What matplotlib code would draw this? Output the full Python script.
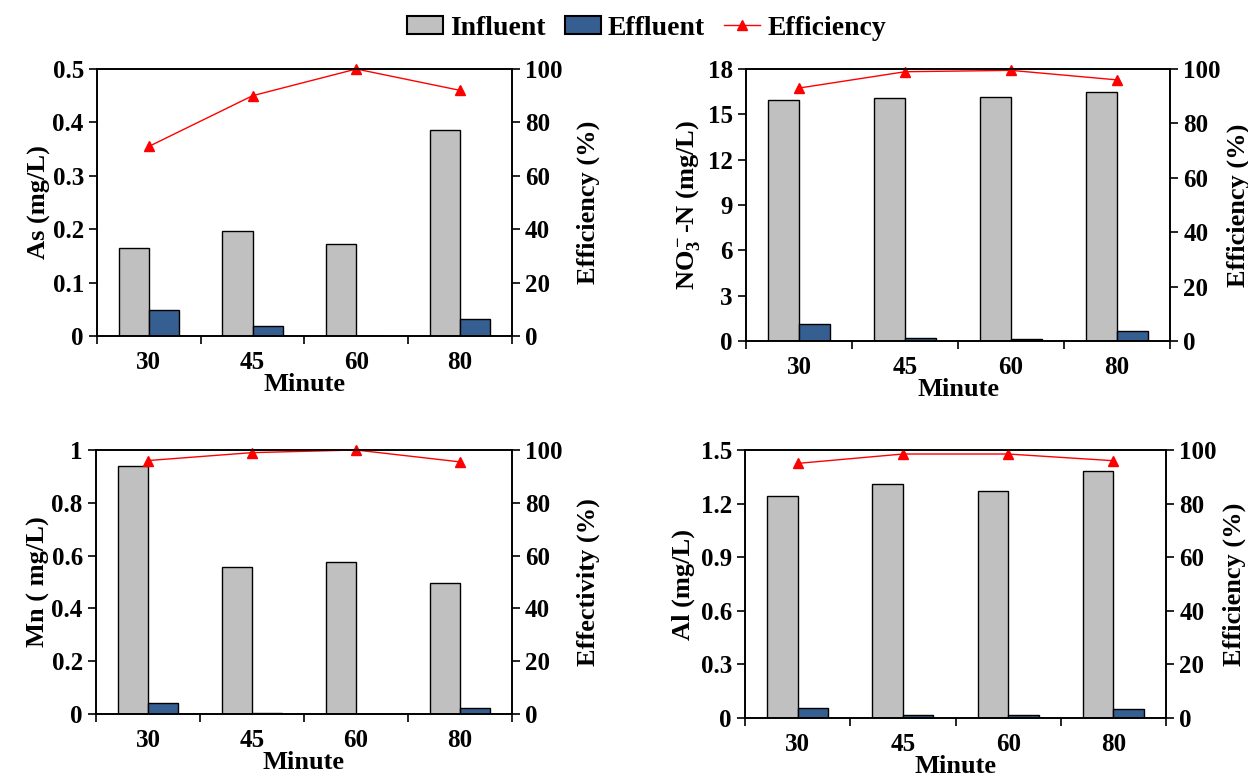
import numpy as np
import matplotlib
matplotlib.use("Agg")
import matplotlib.pyplot as plt
from matplotlib.patches import Patch
from matplotlib.lines import Line2D

plt.rcParams['font.family'] = ['Liberation Serif', 'DejaVu Serif']
plt.rcParams['font.weight'] = 'bold'
plt.rcParams['mathtext.fontset'] = 'custom'
plt.rcParams['mathtext.rm'] = 'Liberation Serif:bold'
plt.rcParams['mathtext.it'] = 'Liberation Serif:bold'
plt.rcParams['mathtext.bf'] = 'Liberation Serif:bold'

minutes = ['30', '45', '60', '80']

as_in = [0.165, 0.196, 0.172, 0.386]
as_out = [0.048, 0.019, 0.0, 0.031]
as_eff = [71, 90, 100, 92]

no3_in = [15.95, 16.05, 16.15, 16.45]
no3_out = [1.15, 0.22, 0.1, 0.65]
no3_eff = [93, 99, 99.5, 96]

mn_in = [0.94, 0.555, 0.575, 0.495]
mn_out = [0.04, 0.005, 0.001, 0.022]
mn_eff = [96, 99, 100, 95.5]

al_in = [1.245, 1.31, 1.27, 1.385]
al_out = [0.058, 0.015, 0.015, 0.052]
al_eff = [95, 98.5, 98.5, 96]

c_in = '#C0C0C0'
c_out = '#355F91'
c_eff = '#FF0000'

fig = plt.figure(figsize=(12.48, 7.78), dpi=100)


def panel(rect, infl, effl, eff, ylim, yticks, ylabel, rlabel, lpad, rpad):
    ax = fig.add_axes(rect)
    x = np.arange(len(minutes))
    w = 0.29
    ax.bar(x - w / 2, infl, w, color=c_in, edgecolor='black', linewidth=1)
    ax.bar(x + w / 2, effl, w, color=c_out, edgecolor='black', linewidth=1)
    ax.set_xlim(-0.5, len(minutes) - 0.5)
    ax.set_ylim(*ylim)
    ax.set_yticks(yticks)
    ax.set_yticklabels([('%g' % t) for t in yticks])
    ax.set_xticks(np.arange(len(minutes) + 1) - 0.5)
    ax.set_xticklabels([])
    ax.set_xticks(x, minor=True)
    ax.set_xticklabels(minutes, minor=True)
    ax.tick_params(axis='x', which='major', direction='out', length=6, width=1.2)
    ax.tick_params(axis='x', which='minor', length=0, pad=11, labelsize=18)
    ax.tick_params(axis='y', direction='out', length=6, width=1.2, labelsize=18)
    ax.set_xlabel('Minute', fontsize=19, fontweight='bold', labelpad=-1)
    ax.set_ylabel(ylabel, fontsize=19, fontweight='bold', labelpad=lpad)
    for s in ax.spines.values():
        s.set_linewidth(1.2)

    ax2 = ax.twinx()
    ax2.plot(x, eff, color=c_eff, marker='^', markersize=7, linewidth=1.0, clip_on=False)
    ax2.set_ylim(0, 100)
    ax2.set_yticks([0, 20, 40, 60, 80, 100])
    ax2.tick_params(axis='y', direction='out', length=6, width=1.2, labelsize=18)
    ax2.set_ylabel(rlabel, fontsize=19, fontweight='bold', labelpad=rpad)
    for s in ax2.spines.values():
        s.set_linewidth(1.2)
    return ax


panel([0.0777, 0.5681, 0.3325, 0.3432], as_in, as_out, as_eff,
      (0, 0.5), [0, 0.1, 0.2, 0.3, 0.4, 0.5], 'As (mg/L)', 'Efficiency (%)', 1, 10)
panel([0.5978, 0.5617, 0.3397, 0.3496], no3_in, no3_out, no3_eff,
      (0, 18), [0, 3, 6, 9, 12, 15, 18], r'NO$_3^-$-N (mg/L)', 'Efficiency (%)', 4, 4)
panel([0.0769, 0.0823, 0.3333, 0.3393], mn_in, mn_out, mn_eff,
      (0, 1), [0, 0.2, 0.4, 0.6, 0.8, 1], 'Mn ( mg/L)', 'Effectivity (%)', 1, 10)
panel([0.5970, 0.0771, 0.3373, 0.3445], al_in, al_out, al_eff,
      (0, 1.5), [0, 0.3, 0.6, 0.9, 1.2, 1.5], 'Al (mg/L)', 'Efficiency (%)', 4, 4)

handles = [Patch(facecolor=c_in, edgecolor='black', linewidth=1.5),
           Patch(facecolor=c_out, edgecolor='black', linewidth=1.5),
           Line2D([], [], color=c_eff, marker='^', markersize=7, linewidth=1.0)]
fig.legend(handles, ['Influent', 'Effluent', 'Efficiency'], loc='upper center',
           bbox_to_anchor=(0.518, 1.012), ncol=3, frameon=False,
           prop={'family': 'Liberation Serif', 'weight': 'bold', 'size': 20},
           handlelength=1.3, handleheight=0.6, handletextpad=0.25, columnspacing=0.7)

fig.savefig('out.png', dpi=100)
